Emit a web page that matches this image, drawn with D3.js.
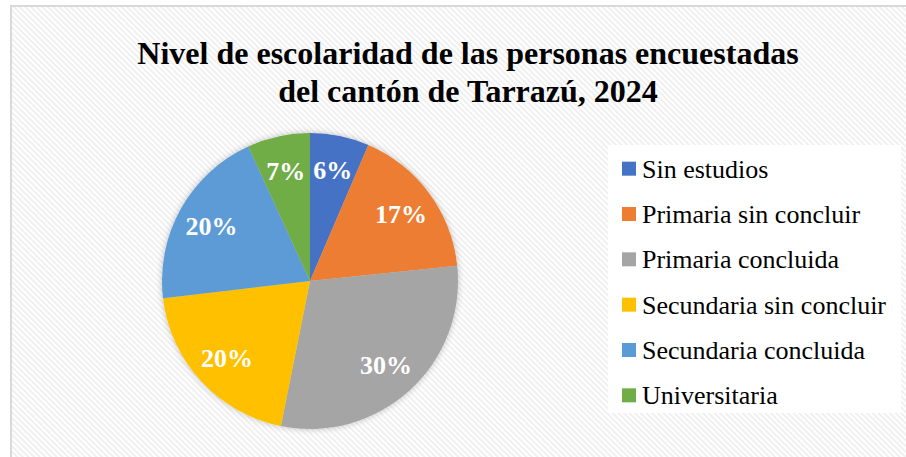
<!DOCTYPE html>
<html>
<head>
<meta charset="utf-8">
<script src="https://cdn.jsdelivr.net/npm/d3@7"></script>
<style>
  body { margin: 0; background: #fff; }
  svg { display: block; }
</style>
</head>
<body>
<svg id="grafico" width="906" height="457"></svg>
<script>
const categorias = ['Sin estudios', 'Primaria sin concluir', 'Primaria concluida',
    'Secundaria sin concluir', 'Secundaria concluida', 'Universitaria'];
const valores = [6.45, 16.9, 29.8, 20.0, 20.0, 6.85];
const cores = ['#4472C4', '#ED7D31', '#A5A5A5', '#FFC000', '#5B9BD5', '#70AD47'];
const titulo = ['Nivel de escolaridad de las personas encuestadas', 'del cantón de Tarrazú, 2024'];

const fonte = '"Liberation Serif", "Times New Roman", serif';
const svg = d3.select('#grafico');
const defs = svg.append('defs');

// fundo com riscas diagonais
const pat = defs.append('pattern')
    .attr('id', 'riscas')
    .attr('patternUnits', 'userSpaceOnUse')
    .attr('width', 4).attr('height', 4)
    .attr('patternTransform', 'rotate(-45)');
pat.append('rect').attr('width', 4).attr('height', 4).attr('fill', '#fff');
pat.append('rect').attr('width', 2).attr('height', 4).attr('fill', '#f0f0f0');

const sombra = defs.append('filter').attr('id', 'sombra')
    .attr('x', '-10%').attr('y', '-10%').attr('width', '120%').attr('height', '120%');
sombra.append('feGaussianBlur').attr('in', 'SourceAlpha').attr('stdDeviation', 3);
sombra.append('feComponentTransfer').append('feFuncA').attr('type', 'linear').attr('slope', 0.25);
const merge = sombra.append('feMerge');
merge.append('feMergeNode');
merge.append('feMergeNode').attr('in', 'SourceGraphic');

svg.append('rect')
    .attr('x', 11).attr('y', 6)
    .attr('width', 910).attr('height', 470)
    .attr('fill', 'url(#riscas)')
    .attr('stroke', '#d9d9d9').attr('stroke-width', 2);

// titulo
svg.append('text')
    .attr('x', 468).attr('text-anchor', 'middle')
    .attr('font-family', fonte)
    .attr('font-weight', 'bold').attr('font-size', 32)
    .selectAll('tspan')
    .data(titulo)
    .enter().append('tspan')
    .attr('x', 468)
    .attr('y', (d, i) => 64 + i * 38)
    .text(d => d);

// pizza
const cx = 310, cy = 281, raio = 148;
const pie = d3.pie().sort(null).value(d => d);
const arco = d3.arc().innerRadius(0).outerRadius(raio);
const arcoRotulo = d3.arc().innerRadius(113).outerRadius(113);
const total = d3.sum(valores);

const g = svg.append('g').attr('transform', `translate(${cx},${cy})`);

g.append('g').attr('filter', 'url(#sombra)')
    .selectAll('path')
    .data(pie(valores))
    .enter().append('path')
    .attr('d', arco)
    .attr('fill', (d, i) => cores[i]);

g.selectAll('text.rotulo')
    .data(pie(valores))
    .enter().append('text')
    .attr('class', 'rotulo')
    .attr('transform', d => `translate(${arcoRotulo.centroid(d)})`)
    .attr('text-anchor', 'middle')
    .attr('dy', '0.35em')
    .attr('font-family', fonte)
    .attr('font-weight', 'bold').attr('font-size', 26)
    .attr('fill', '#fff')
    .text(d => Math.round(d.data / total * 100) + '%');

// legenda
svg.append('rect')
    .attr('x', 608).attr('y', 145)
    .attr('width', 293).attr('height', 268)
    .attr('fill', '#fff');

const y = d3.scaleBand().domain(categorias).range([146, 418]);

const leg = svg.append('g').selectAll('g')
    .data(categorias)
    .enter().append('g')
    .attr('transform', d => `translate(622,${y(d) + y.bandwidth() / 2})`);

leg.append('rect')
    .attr('x', 0).attr('y', -7)
    .attr('width', 14).attr('height', 14)
    .attr('fill', (d, i) => cores[i]);

leg.append('text')
    .attr('x', 20).attr('dy', '0.35em')
    .attr('font-family', fonte)
    .attr('font-size', 26)
    .attr('fill', '#000')
    .text(d => d);
</script>
</body>
</html>
